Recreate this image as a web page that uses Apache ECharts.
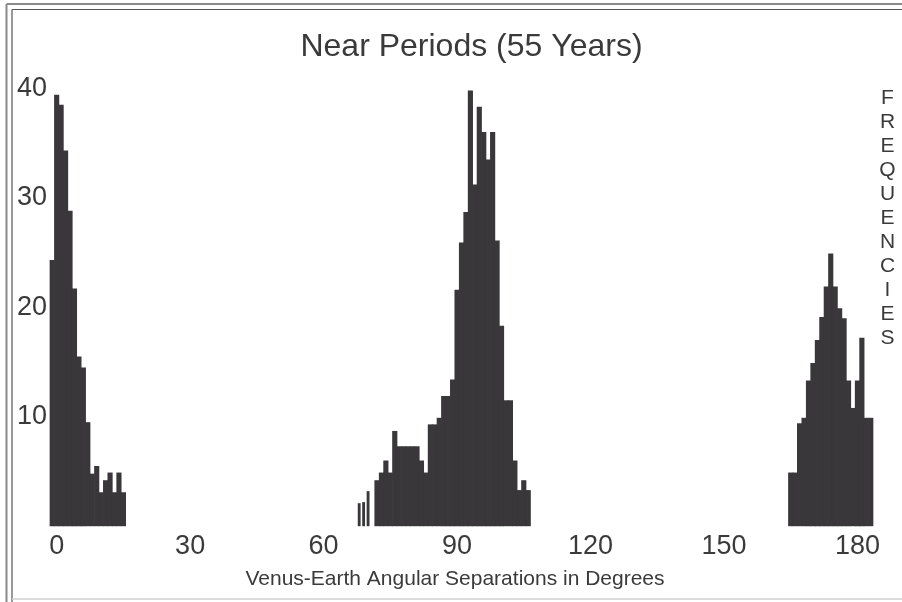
<!DOCTYPE html>
<html>
<head>
<meta charset="utf-8">
<script src="https://cdn.jsdelivr.net/npm/echarts@6/dist/echarts.min.js"></script>
<style>
html,body{margin:0;padding:0;background:#ffffff;}
#chart{width:902px;height:602px;}
</style>
</head>
<body>
<div id="chart"></div>
<script>
// ---- data ----
const xTickLabels = [0, 30, 60, 90, 120, 150, 180];
const yTickLabels = [10, 20, 30, 40];

const leftDegrees = [-1, 0, 1, 2, 3, 4, 5, 6, 7, 8, 9, 10, 11, 12, 13, 14, 15];
const leftFreq    = [24.3, 39.4, 38.5, 34.3, 28.8, 21.7, 15.5, 14.5, 9.5, 4.8, 5.5, 3.1, 4.2, 4.9, 3.1, 4.9, 3.1];

const thinDegrees = [68, 69, 70];
const thinFreq    = [2.1, 2.2, 3.2];

const midDegrees = [72, 73, 74, 75, 76, 77, 78, 79, 80, 81, 82, 83, 84, 85, 86, 87, 88, 89,
                    90, 91, 92, 93, 94, 95, 96, 97, 98, 99, 100, 101, 102, 103, 104, 105, 106];
const midFreq    = [4.2, 4.9, 6.0, 4.9, 8.7, 7.3, 7.3, 7.3, 7.3, 7.3, 6.0, 4.9, 9.3, 9.3, 9.9, 11.9, 11.9, 13.4,
                    21.6, 25.9, 28.7, 39.8, 31.2, 38.3, 36.0, 33.5, 36.0, 26.1, 18.3, 11.5, 11.5, 6.0, 3.3, 4.2, 3.3];

const rightDegrees = [165, 166, 167, 168, 169, 170, 171, 172, 173, 174, 175, 176, 177, 178, 179, 180, 181, 182, 183];
const rightFreq    = [4.9, 4.9, 9.4, 9.9, 13.3, 14.9, 17.0, 19.1, 21.9, 24.9, 21.9, 19.9, 19.0, 13.3, 10.8, 13.3, 17.2, 9.9, 9.9];

const titleText = 'Near Periods (55 Years)';
const xAxisTitle = 'Venus-Earth Angular Separations in Degrees';
const yAxisTitle = 'FREQUENCIES';

// ---- layout / style ----
const W = 902, H = 602;
const gridLeft = 50, gridRight = 29, gridTop = 88.2, gridBottom = 75.8;
const xMin = -1.5, xMax = 183.5;
const barPx = (W - gridLeft - gridRight) / (xMax - xMin);
const barColor = '#393739';
const textColor = '#3a3a3a';
const fontFamily = "'Liberation Sans', Arial, Helvetica, sans-serif";

function pairs(xs, ys) { return xs.map((x, i) => [x, ys[i]]); }
const mainData = pairs(leftDegrees, leftFreq)
  .concat(pairs(midDegrees, midFreq))
  .concat(pairs(rightDegrees, rightFreq));
const thinData = pairs(thinDegrees, thinFreq);

const chart = echarts.init(document.getElementById('chart'), null, {renderer: 'canvas'});

const xAxisBase = {
  type: 'value', min: xMin, max: xMax,
  axisLine: {show: false}, axisTick: {show: false}, splitLine: {show: false}
};

chart.setOption({
  animation: false,
  backgroundColor: '#ffffff',
  grid: {left: gridLeft, right: gridRight, top: gridTop, bottom: gridBottom, containLabel: false},
  xAxis: [
    Object.assign({}, xAxisBase, {
      axisLabel: {
        customValues: xTickLabels, fontSize: 27, color: textColor,
        fontFamily: fontFamily, margin: 7
      }
    }),
    Object.assign({}, xAxisBase, {show: false})
  ],
  yAxis: {
    type: 'value', min: 0, max: 40, interval: 10,
    axisLine: {show: false}, axisTick: {show: false}, splitLine: {show: false},
    axisLabel: {
      customValues: yTickLabels, fontSize: 27, color: textColor,
      fontFamily: fontFamily, margin: 3
    }
  },
  series: [
    {
      type: 'bar', xAxisIndex: 0, data: mainData, barWidth: barPx + 0.7,
      itemStyle: {color: barColor}, silent: true
    },
    {
      type: 'bar', xAxisIndex: 1, data: thinData, barWidth: barPx - 1.6,
      itemStyle: {color: barColor}, silent: true
    }
  ],
  graphic: [
    {type: 'line', shape: {x1: 6.5, y1: 4, x2: 6.5, y2: H}, style: {stroke: '#8a8a8a', lineWidth: 2}, silent: true},
    {type: 'line', shape: {x1: 6.5, y1: 4, x2: W, y2: 4}, style: {stroke: '#8a8a8a', lineWidth: 2}, silent: true},
    {type: 'line', shape: {x1: 12, y1: 9.5, x2: 12, y2: H}, style: {stroke: '#555555', lineWidth: 1.2}, silent: true},
    {type: 'line', shape: {x1: 12, y1: 9.5, x2: W, y2: 9.5}, style: {stroke: '#555555', lineWidth: 1.2}, silent: true},
    {type: 'line', shape: {x1: 12, y1: 599, x2: W, y2: 599}, style: {stroke: '#cfcfcf', lineWidth: 1.5}, silent: true},
    {
      type: 'text', x: 471.5, y: 47,
      style: {text: titleText, fontSize: 32, fontFamily: fontFamily, fill: textColor, align: 'center', verticalAlign: 'middle'},
      silent: true
    },
    {
      type: 'text', x: 455, y: 579,
      style: {text: xAxisTitle, fontSize: 21, fontFamily: fontFamily, fill: textColor, align: 'center', verticalAlign: 'middle'},
      silent: true
    },
    {
      type: 'text', x: 887.5, y: 86.5,
      style: {text: yAxisTitle.split('').join('\n'), fontSize: 21, lineHeight: 24, fontFamily: fontFamily, fill: textColor, align: 'center', verticalAlign: 'top'},
      silent: true
    }
  ]
});
</script>
</body>
</html>
